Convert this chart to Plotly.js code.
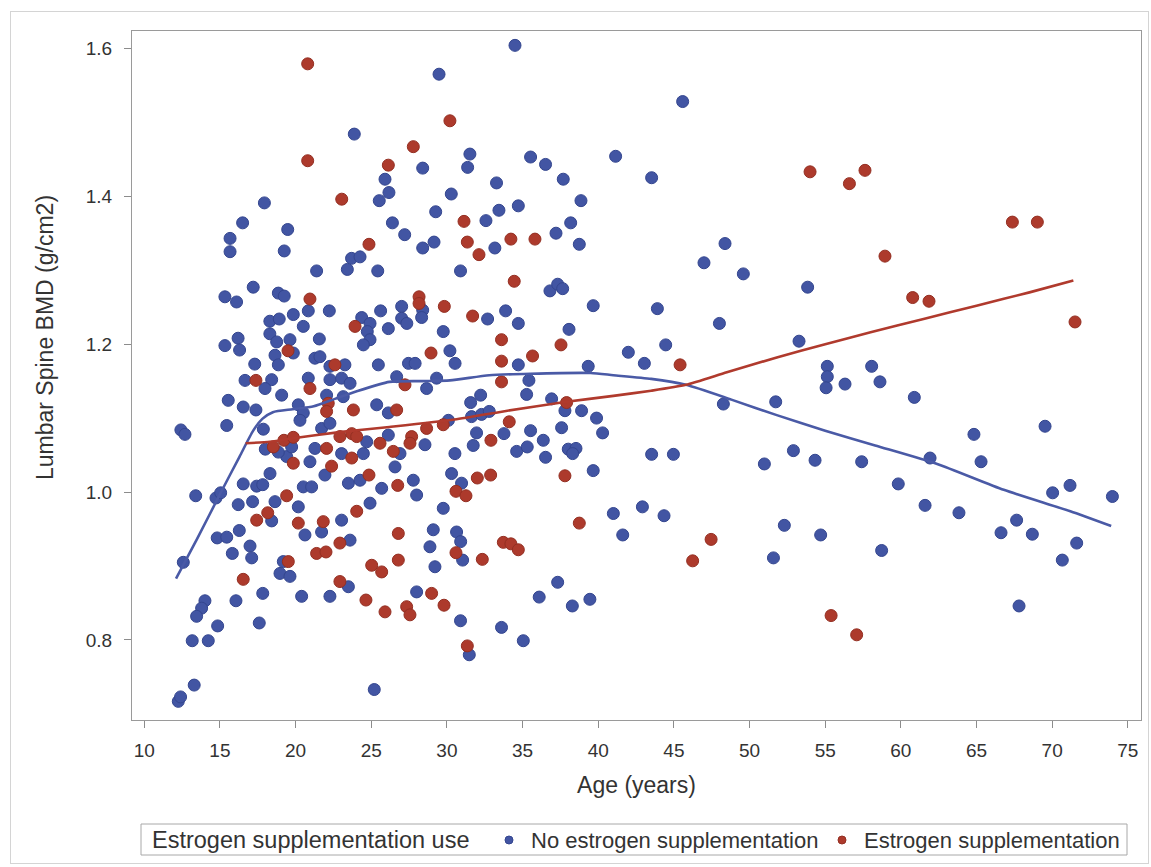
<!DOCTYPE html>
<html>
<head>
<meta charset="utf-8">
<script src="https://cdn.plot.ly/plotly-3.0.1.min.js"></script>
<style>
  body { margin: 0; background: #ffffff; }
  #wrap { position: relative; width: 1151px; height: 867px; }
  #chart { width: 1151px; height: 867px; }
  #frame { position: absolute; left: 10px; top: 11px; width: 1137px; height: 851px;
           border: 1px solid #d4d4d4; pointer-events: none; }
</style>
</head>
<body>
<div id="wrap"><div id="chart"></div><div id="frame"></div></div>
<script>
// ---------------- DATA ----------------
// No estrogen supplementation: age (years) and lumbar spine BMD (g/cm2)
const noEstAge = [
  17.94,16.5,19.48,15.67,15.67,19.25,17.2,15.33,16.1,18.86,19.25,19.85,18.3,18.92,18.3,18.75,19.63,15.33,16.2,16.3,19.85,18.64,17.3,18.86,
  16.66,18.42,17.98,19.08,15.55,16.54,17.38,12.42,12.69,15.45,17.87,18.0,19.41,18.86,18.31,16.54,17.43,17.83,13.4,14.74,15.05,16.21,17.16,18.64,18.42,16.28,14.82,15.45,15.82,16.99,17.1,12.58,19.19,18.97,19.63,17.83,16.06,14.01,13.79,13.46,14.85,17.6,13.17,14.23,13.3,12.25,12.4,
  29.48,23.88,28.4,25.91,26.17,25.53,30.29,29.26,26.4,27.21,28.4,29.15,23.7,24.26,23.42,21.39,25.43,28.4,28.33,20.84,22.23,20.51,21.57,25.62,27.01,24.37,24.92,27.01,27.35,26.13,24.74,24.92,24.48,29.76,30.2,30.54,21.28,21.61,23.26,25.47,27.46,27.9,22.27,
  20.84,22.27,23.04,23.6,26.68,28.66,29.32,22.05,20.18,20.51,20.29,23.15,25.36,26.13,21.72,22.27,24.7,26.13,28.55,30.1,21.28,23.04,24.48,19.74,20.95,26.9,26.57,21.94,20.51,21.06,23.49,24.26,25.69,27.78,28.0,20.18,24.92,21.72,20.62,23.04,29.76,29.1,28.88,23.6,29.21,23.49,20.4,22.27,28.0,25.2,
  34.5,31.52,31.37,35.53,36.52,41.15,33.28,37.69,38.86,33.44,34.72,32.58,38.18,33.17,37.21,38.75,30.9,36.81,37.32,37.65,39.67,32.69,33.88,34.72,38.07,34.72,39.34,
  35.42,35.27,31.57,32.23,31.63,32.29,32.8,36.92,37.8,38.9,39.89,40.29,31.96,33.77,35.53,36.37,37.58,31.74,30.53,34.61,35.31,36.52,38.02,38.53,38.31,39.67,30.31,30.97,30.64,30.91,31.04,37.32,36.1,38.29,39.45,30.9,33.61,35.05,31.48,
  45.58,43.53,48.38,46.99,49.59,53.84,43.91,48.01,41.99,43.05,44.46,53.27,55.14,55.14,55.06,56.31,48.27,51.73,43.53,44.97,50.98,52.9,54.33,57.41,41.0,42.92,44.35,41.62,52.3,54.7,51.58,
  58.07,58.62,60.89,69.53,64.83,61.93,65.3,59.83,71.18,70.03,73.98,61.6,63.84,67.65,66.62,68.69,71.62,70.67,58.73,67.81
];
const noEstBmd = [
  1.391,1.364,1.355,1.343,1.325,1.326,1.277,1.264,1.257,1.269,1.265,1.240,1.231,1.234,1.214,1.203,1.206,1.198,1.208,1.192,1.188,1.185,1.173,1.172,
  1.151,1.152,1.140,1.131,1.124,1.115,1.111,1.084,1.078,1.090,1.085,1.058,1.048,1.054,1.025,1.011,1.008,1.010,0.995,0.992,0.999,0.983,0.987,0.987,0.961,0.948,0.938,0.939,0.917,0.927,0.911,0.905,0.906,0.890,0.886,0.863,0.853,0.853,0.843,0.832,0.819,0.823,0.799,0.799,0.739,0.717,0.723,
  1.565,1.484,1.438,1.423,1.405,1.394,1.403,1.379,1.364,1.348,1.330,1.338,1.316,1.318,1.301,1.299,1.299,1.246,1.236,1.245,1.245,1.224,1.207,1.245,1.251,1.236,1.228,1.235,1.228,1.221,1.217,1.206,1.199,1.217,1.191,1.174,1.181,1.183,1.172,1.172,1.174,1.174,1.170,
  1.154,1.152,1.154,1.147,1.156,1.140,1.154,1.131,1.118,1.107,1.097,1.129,1.118,1.107,1.086,1.093,1.068,1.077,1.064,1.097,1.059,1.052,1.052,1.061,1.041,1.052,1.034,1.023,1.007,1.007,1.012,1.016,1.005,1.016,0.996,0.980,0.985,0.946,0.942,0.962,0.978,0.949,0.926,0.935,0.899,0.872,0.859,0.859,0.865,0.733,
  1.604,1.457,1.439,1.453,1.443,1.454,1.418,1.423,1.394,1.381,1.387,1.367,1.364,1.330,1.350,1.335,1.299,1.272,1.281,1.275,1.252,1.234,1.245,1.228,1.220,1.172,1.170,
  1.151,1.132,1.121,1.131,1.102,1.105,1.109,1.126,1.110,1.110,1.100,1.080,1.080,1.079,1.083,1.070,1.087,1.063,1.052,1.055,1.061,1.047,1.058,1.059,1.052,1.029,1.025,1.012,0.946,0.933,0.908,0.878,0.858,0.846,0.855,0.826,0.817,0.799,0.780,
  1.528,1.425,1.336,1.310,1.295,1.277,1.248,1.228,1.189,1.174,1.199,1.204,1.170,1.156,1.141,1.146,1.119,1.122,1.051,1.051,1.038,1.056,1.043,1.041,0.971,0.980,0.968,0.942,0.955,0.942,0.911,
  1.170,1.149,1.128,1.089,1.078,1.046,1.041,1.011,1.009,0.999,0.994,0.982,0.972,0.962,0.945,0.943,0.931,0.908,0.921,0.846
];

// Estrogen supplementation: age (years) and lumbar spine BMD (g/cm2)
const estAge = [
  19.5,
  17.38,18.53,19.23,19.85,19.85,17.43,18.16,19.41,19.52,16.54,
  20.8,30.2,27.78,20.8,26.13,23.05,24.85,20.95,28.16,28.16,29.83,23.93,28.95,22.6,
  20.95,27.23,22.16,22.05,23.82,26.68,22.93,23.71,24.04,25.58,27.67,27.56,28.66,29.76,22.05,23.71,26.46,22.38,24.85,26.75,24.04,20.18,21.83,26.79,22.93,21.39,22.01,25.03,25.69,26.79,22.93,24.65,25.91,28.99,27.34,27.56,29.81,
  31.13,31.35,32.12,34.23,35.82,34.45,31.7,33.61,37.54,33.61,35.66,
  33.61,37.91,34.12,32.91,32.01,32.89,37.8,30.6,31.26,38.75,30.6,32.34,33.73,34.23,34.72,31.35,
  54.0,56.6,57.63,45.41,47.46,46.24,55.39,57.08,
  67.37,69.02,58.95,60.78,61.86,71.51
];
const estBmd = [
  1.191,
  1.151,1.061,1.070,1.074,1.039,0.962,0.972,0.995,0.906,0.882,
  1.579,1.502,1.467,1.448,1.442,1.396,1.335,1.261,1.264,1.255,1.251,1.224,1.188,1.172,
  1.140,1.145,1.120,1.109,1.111,1.111,1.075,1.079,1.075,1.066,1.075,1.066,1.086,1.091,1.059,1.046,1.055,1.035,1.023,1.009,0.974,0.958,0.960,0.944,0.931,0.917,0.919,0.901,0.892,0.908,0.879,0.854,0.838,0.863,0.845,0.834,0.847,
  1.366,1.338,1.321,1.342,1.342,1.285,1.238,1.206,1.199,1.177,1.184,
  1.149,1.121,1.095,1.070,1.019,1.023,1.022,1.001,0.995,0.958,0.918,0.909,0.932,0.930,0.922,0.792,
  1.433,1.417,1.435,1.172,0.936,0.907,0.833,0.807,
  1.365,1.365,1.319,1.263,1.258,1.230
];

// Loess fit curves
const noEstFitAge = [12.1,13.5,15.0,16.3,17.2,17.8,18.5,19.8,21.2,22.6,24.0,26.2,28.4,30.2,32.8,35.5,39.5,41.0,43.5,45.8,48.8,51.8,55.0,58.3,62.4,66.8,71.2,73.9];
const noEstFitBmd = [0.883,0.937,0.997,1.048,1.083,1.099,1.108,1.112,1.116,1.126,1.136,1.149,1.150,1.151,1.158,1.160,1.161,1.158,1.153,1.145,1.125,1.104,1.083,1.063,1.038,1.003,0.974,0.954];
const estFitAge = [16.7,18.3,19.6,22.9,26.2,30.5,34.0,37.9,41.0,43.5,45.8,48.5,51.8,55.0,58.0,61.5,65.0,68.5,71.4];
const estFitBmd = [1.066,1.068,1.072,1.081,1.088,1.098,1.110,1.122,1.130,1.137,1.145,1.162,1.182,1.200,1.216,1.234,1.252,1.270,1.286];

const groupTitle = 'Estrogen supplementation use';
const groupNames = ['No estrogen supplementation', 'Estrogen supplementation'];
const xTitle = 'Age (years)';
const yTitle = 'Lumbar Spine BMD (g/cm2)';
const xTicks = [10,15,20,25,30,35,40,45,50,55,60,65,70,75];
const yTicks = [0.8,1.0,1.2,1.4,1.6];

// ---------------- STYLE ----------------
const BLUE = '#4255a3', BLUE_EDGE = '#34468f', BLUE_LINE = '#4a5aa6';
const RED = '#ad3a2c', RED_EDGE = '#942f22', RED_LINE = '#b03a2d';
const FONT = '"Liberation Sans", Arial, sans-serif';
const TXT = '#333333';

const L = 132, R = 1141, T = 31, B = 720;
const fx = px => (px - L) / (R - L);
const fy = py => (B - py) / (B - T);

const traces = [
  { type: 'scatter', mode: 'markers', x: noEstAge, y: noEstBmd, name: groupNames[0], showlegend: false,
    marker: { size: 12, color: BLUE, line: { color: BLUE_EDGE, width: 1 } }, hoverinfo: 'x+y' },
  { type: 'scatter', mode: 'markers', x: estAge, y: estBmd, name: groupNames[1], showlegend: false,
    marker: { size: 12, color: RED, line: { color: RED_EDGE, width: 1 } }, hoverinfo: 'x+y' },
  { type: 'scatter', mode: 'lines', x: noEstFitAge, y: noEstFitBmd, showlegend: false,
    line: { color: BLUE_LINE, width: 2.6, shape: 'spline', smoothing: 0.6 }, hoverinfo: 'skip' },
  { type: 'scatter', mode: 'lines', x: estFitAge, y: estFitBmd, showlegend: false,
    line: { color: RED_LINE, width: 2.6, shape: 'spline', smoothing: 0.6 }, hoverinfo: 'skip' }
];

const axisCommon = {
  showgrid: false, zeroline: false, showline: true, mirror: true,
  linecolor: '#9a9a9a', linewidth: 1,
  ticks: 'outside', ticklen: 7, tickcolor: '#8c8c8c', tickwidth: 1,
  tickfont: { family: FONT, size: 19, color: TXT }
};

const layout = {
  width: 1151, height: 867,
  margin: { l: L, r: 1151 - R, t: T, b: 867 - B, pad: 0 },
  paper_bgcolor: '#ffffff', plot_bgcolor: '#ffffff',
  font: { family: FONT, color: TXT },
  showlegend: false,
  xaxis: Object.assign({}, axisCommon, {
    range: [9.19, 75.87], tickmode: 'array', tickvals: xTicks, ticktext: xTicks.map(String),
    ticklabelstandoff: 6,
    title: { text: xTitle, font: { family: FONT, size: 23, color: TXT }, standoff: 17 }
  }),
  yaxis: Object.assign({}, axisCommon, {
    range: [0.6918, 1.6234], tickmode: 'array', tickvals: yTicks, ticktext: yTicks.map(v => v.toFixed(1)),
    ticklabelstandoff: 8,
    title: { text: '' }
  }),
  shapes: [
    { type: 'rect', xref: 'paper', yref: 'paper', x0: fx(141), x1: fx(1127), y0: fy(855), y1: fy(824),
      line: { color: '#a8a8a8', width: 1 }, fillcolor: 'rgba(0,0,0,0)' },
    { type: 'circle', xref: 'paper', yref: 'paper', x0: fx(505), x1: fx(513), y0: fy(844), y1: fy(836),
      line: { color: BLUE_EDGE, width: 1 }, fillcolor: BLUE },
    { type: 'circle', xref: 'paper', yref: 'paper', x0: fx(838), x1: fx(846), y0: fy(844), y1: fy(836),
      line: { color: RED_EDGE, width: 1 }, fillcolor: RED }
  ],
  annotations: [
    { xref: 'paper', yref: 'paper', x: fx(45), y: fy(338), xanchor: 'center', yanchor: 'middle', showarrow: false,
      textangle: -90, text: yTitle, font: { family: FONT, size: 23, color: TXT } },
    { xref: 'paper', yref: 'paper', x: fx(150), y: fy(840), xanchor: 'left', yanchor: 'middle', showarrow: false,
      text: groupTitle, font: { family: FONT, size: 23.5, color: TXT } },
    { xref: 'paper', yref: 'paper', x: fx(529), y: fy(840), xanchor: 'left', yanchor: 'middle', showarrow: false,
      text: groupNames[0], font: { family: FONT, size: 22, color: TXT } },
    { xref: 'paper', yref: 'paper', x: fx(862), y: fy(840), xanchor: 'left', yanchor: 'middle', showarrow: false,
      text: groupNames[1], font: { family: FONT, size: 22, color: TXT } }
  ]
};

Plotly.newPlot('chart', traces, layout, { displayModeBar: false, staticPlot: true });
</script>
</body>
</html>
